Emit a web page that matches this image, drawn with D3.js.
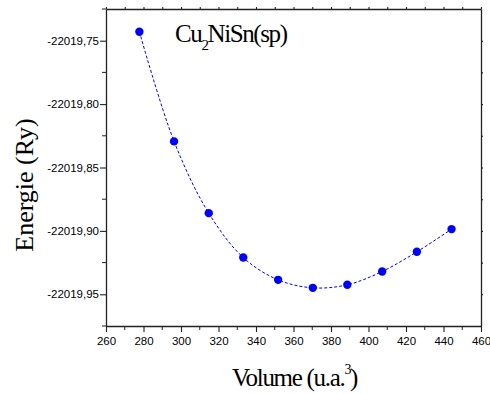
<!DOCTYPE html>
<html>
<head>
<meta charset="utf-8">
<script src="https://cdn.jsdelivr.net/npm/d3@7"></script>
<style>
  html, body { margin: 0; padding: 0; background: #fff; }
  svg { display: block; }
</style>
</head>
<body>
<svg id="chart" width="490" height="394"></svg>
<script>
// ---- data ----
const volumes = [277.8, 296.3, 314.8, 333.2, 351.8, 370.3, 388.7, 407.3, 425.8, 444.3];
const energies = [-22019.7429, -22019.8294, -22019.8860, -22019.9210, -22019.9386, -22019.9449, -22019.9425, -22019.9320, -22019.9165, -22019.8986];
const xTicks = [260, 280, 300, 320, 340, 360, 380, 400, 420, 440, 460];
const yTicks = [-22019.75, -22019.80, -22019.85, -22019.90, -22019.95];
const yTickLabels = ["-22019,75", "-22019,80", "-22019,85", "-22019,90", "-22019,95"];
const xDomain = [260, 460];
const yDomain = [-22019.975, -22019.725];

const svg = d3.select("#chart");
const L = 106, R = 481, T = 9, B = 326;
const x = d3.scaleLinear().domain(xDomain).range([L, R]);
const y = d3.scaleLinear().domain(yDomain).range([B, T]);
const axisColor = "#222";

const minorX = d3.range(260, 461, 10);
const minorY = d3.range(0, 11).map(i => yDomain[0] + i * 0.025);

// bottom axis
const gB = svg.append("g").attr("transform", `translate(0,${B})`)
  .call(d3.axisBottom(x).tickValues(xTicks).tickSize(6).tickSizeOuter(0).tickPadding(4));
gB.append("g").selectAll("line").data(minorX.filter(v => !xTicks.includes(v)))
  .join("line").attr("x1", d => x(d)).attr("x2", d => x(d)).attr("y1", 0).attr("y2", 4)
  .attr("stroke", axisColor);

// left axis
const gL = svg.append("g").attr("transform", `translate(${L},0)`)
  .call(d3.axisLeft(y).tickValues(yTicks).tickFormat((d, i) => yTickLabels[i]).tickSize(6).tickSizeOuter(0).tickPadding(1));
gL.append("g").selectAll("line").data(minorY.filter(v => !yTicks.some(t => Math.abs(t - v) < 1e-6)))
  .join("line").attr("y1", d => y(d)).attr("y2", d => y(d)).attr("x1", 0).attr("x2", -4)
  .attr("stroke", axisColor);

// top axis
const gT = svg.append("g").attr("transform", `translate(0,${T})`)
  .call(d3.axisTop(x).tickValues(minorX).tickSize(2).tickSizeOuter(0).tickFormat(""));
// right axis
const gR = svg.append("g").attr("transform", `translate(${R},0)`)
  .call(d3.axisRight(y).tickValues(minorY.slice(1, -1)).tickSize(2).tickSizeOuter(0).tickFormat(""));

[gB, gL, gT, gR].forEach(g => {
  g.select(".domain").attr("stroke", axisColor).attr("stroke-width", 1.3);
  g.selectAll(".tick line").attr("stroke", axisColor).attr("stroke-width", 1.1);
  g.selectAll("text").attr("font-family", "'Liberation Sans', Arial, sans-serif")
    .attr("font-size", "11.5px").attr("fill", "#000").attr("letter-spacing", "0px");
});
gB.selectAll(".tick text").attr("dy", "0.8em");

// fit curve
const pts = volumes.map((v, i) => [v, energies[i]]);
const line = d3.line().x(d => x(d[0])).y(d => y(d[1])).curve(d3.curveCatmullRom.alpha(0.5));
svg.append("path").attr("d", line(pts)).attr("fill", "none")
  .attr("stroke", "#0000ff").attr("stroke-width", 1).attr("stroke-dasharray", "3,2");

// points
svg.append("g").selectAll("circle").data(pts).join("circle")
  .attr("cx", d => x(d[0])).attr("cy", d => y(d[1])).attr("r", 4.2).attr("fill", "#0000ff");

// annotation
const ann = svg.append("text").attr("x", 175).attr("y", 42)
  .attr("font-family", "'Liberation Serif', 'Times New Roman', serif")
  .attr("font-size", "25px").attr("letter-spacing", "-1.4px").attr("fill", "#000");
ann.append("tspan").text("Cu");
ann.append("tspan").attr("font-size", "15px").attr("dy", 8).text("2");
ann.append("tspan").attr("dy", -8).text("NiSn(sp)");

// axis titles
const xt = svg.append("text").attr("x", 232).attr("y", 386)
  .attr("font-family", "'Liberation Serif', 'Times New Roman', serif")
  .attr("font-size", "25px").attr("letter-spacing", "-1.3px").attr("fill", "#000");
xt.append("tspan").text("Volume (u.a.");
xt.append("tspan").attr("font-size", "14px").attr("dy", -12).text("3");
xt.append("tspan").attr("dy", 12).text(")");

svg.append("text").attr("transform", "translate(33,185) rotate(-90)")
  .attr("text-anchor", "middle")
  .attr("font-family", "'Liberation Serif', 'Times New Roman', serif")
  .attr("font-size", "26px").attr("fill", "#000").text("Energie (Ry)");
</script>
</body>
</html>
